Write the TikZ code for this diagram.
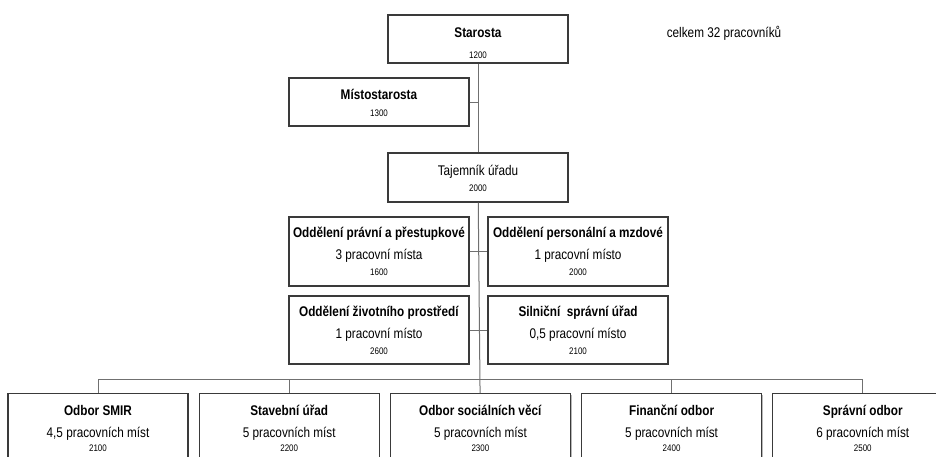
\documentclass[tikz,border=0pt]{standalone}
\usepackage{fontspec}
\setmainfont{Liberation Sans}[FakeStretch=0.84]
\usetikzlibrary{positioning,shadows}
\definecolor{ramec}{HTML}{3A3A3A}
\definecolor{spoj}{HTML}{707070}
\definecolor{stin}{HTML}{B8B8B8}
\newcommand{\cislo}{\fontsize{9.5}{10}\selectfont}
\newcommand{\podpera}[1]{\rule{0pt}{#1}}

\begin{document}
\begin{tikzpicture}[
    x=1pt, y=-1pt,
    node distance=10pt,
    box/.style={rectangle, draw=ramec, line width=1.2pt, fill=white, minimum width=180pt, minimum height=48pt, align=center, inner sep=0pt, font=\fontsize{14}{22}\selectfont,
        drop shadow={shadow xshift=1.2pt, shadow yshift=-1.2pt, fill=stin, opacity=1}},
    tall/.style={box, minimum height=69pt},
    line/.style={draw=spoj, line width=1pt}
]
    \useasboundingbox (0,0) rectangle (936,456);
    \clip (0,0) rectangle (936,456);

    % vedeni
    \node[box] (starosta) at (478,39) {\podpera{18pt}\textbf{Starosta}\\[-1pt]{\cislo 1200}};
    \node[box] (misto) at (379,102) {\podpera{13pt}\textbf{Místostarosta}\\[-5pt]{\cislo 1300}};
    \node[box, minimum height=49pt] (tajemnik) at (478,177.5) {\podpera{13pt}Tajemník úřadu\\[-6pt]{\cislo 2000}};

    % oddeleni
    \node[tall] (pravni) at (379,251.5) {\textbf{Oddělení právní a přestupkové}\\3 pracovní místa\\[-6pt]{\cislo 1600}};
    \node[tall] (personalni) at (578,251.5) {\textbf{Oddělení personální a mzdové}\\1 pracovní místo\\[-6pt]{\cislo 2000}};
    \node[tall, minimum height=68pt] (zivotni) at (379,330) {\textbf{Oddělení životního prostředí}\\1 pracovní místo\\[-6pt]{\cislo 2600}};
    \node[tall, minimum height=68pt] (silnicni) at (578,330) {\textbf{Silniční\ \ správní úřad}\\0,5 pracovní místo\\[-6pt]{\cislo 2100}};

    % odbory
    \node[tall, anchor=north, minimum height=70pt] (smir) at (98,393) {\textbf{Odbor SMIR}\\4,5 pracovních míst\\[-8pt]{\cislo 2100}};
    \node[tall, minimum height=70pt, right=of smir] (stavebni) {\textbf{Stavební úřad}\\5 pracovních míst\\[-8pt]{\cislo 2200}};
    \node[tall, minimum height=70pt, right=of stavebni] (socialni) {\textbf{Odbor sociálních věcí}\\5 pracovních míst\\[-8pt]{\cislo 2300}};
    \node[tall, minimum height=70pt, right=of socialni] (financni) {\textbf{Finanční odbor}\\5 pracovních míst\\[-8pt]{\cislo 2400}};
    \node[tall, minimum height=70pt, right=of financni] (spravni) {\textbf{Správní odbor}\\6 pracovních míst\\[-8pt]{\cislo 2500}};

    \node[font=\fontsize{14}{16}\selectfont] (celkem) at (724,33) {celkem 32 pracovníků};

    \draw[line] (starosta) -- (tajemnik);
    \draw[line] (misto.east) -- (misto.east -| starosta.south);
    \draw[line] (tajemnik) -- (socialni);
    \draw[line] (pravni) -- (personalni);
    \draw[line] (zivotni) -- (silnicni);
    \draw[line] (smir.north) -- ++(0,-14) -| (spravni.north);
    \draw[line] (stavebni.north) -- ++(0,-14);
    \draw[line] (financni.north) -- ++(0,-14);
\end{tikzpicture}
\end{document}
